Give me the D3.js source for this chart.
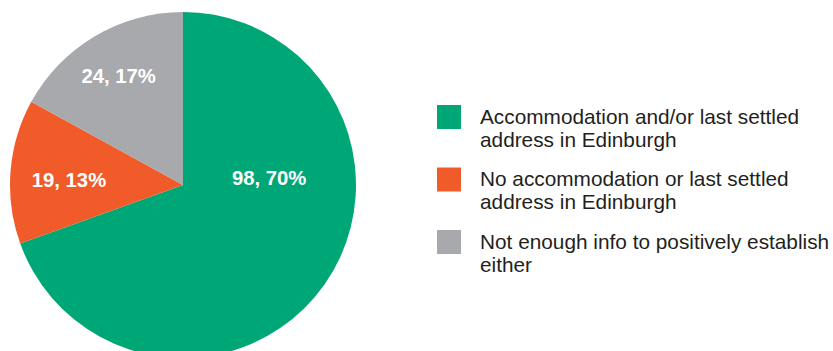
<!DOCTYPE html>
<html>
<head>
<meta charset="utf-8">
<script src="https://cdn.jsdelivr.net/npm/d3@7"></script>
<style>
  html, body { margin: 0; padding: 0; background: #ffffff; }
  svg { display: block; }
</style>
</head>
<body>
<svg id="chart" width="833" height="351"></svg>
<script>
// Slice data
const categories = [
  "Accommodation and/or last settled address in Edinburgh",
  "No accommodation or last settled address in Edinburgh",
  "Not enough info to positively establish either"
];
const legendLines = [
  ["Accommodation and/or last settled", "address in Edinburgh"],
  ["No accommodation or last settled", "address in Edinburgh"],
  ["Not enough info to positively establish", "either"]
];
const counts = [98, 19, 24];
const percents = [70, 13, 17];
const colors = ["#00a776", "#f15a29", "#a7a9ac"];

const svg = d3.select("#chart");
const cx = 183, cy = 185, R = 173;

const pie = d3.pie().sort(null).value(d => d.count);
const data = counts.map((c, i) => ({ name: categories[i], count: c, pct: percents[i], color: colors[i] }));
const arcs = pie(data);
const arc = d3.arc().innerRadius(0).outerRadius(R);

const g = svg.append("g").attr("transform", `translate(${cx},${cy})`);
g.selectAll("path.slice")
  .data(arcs)
  .join("path")
  .attr("class", "slice")
  .attr("d", arc)
  .attr("fill", d => d.data.color);

// Label placement: radius fraction and angle shift (radians) per slice
const labelPlace = [
  { r: 0.50, shift: -0.70 },
  { r: 0.66, shift: -0.03 },
  { r: 0.73, shift: 0.0 }
];
g.selectAll("text.val")
  .data(arcs)
  .join("text")
  .attr("class", "val")
  .attr("x", (d, i) => {
    const a = (d.startAngle + d.endAngle) / 2 + labelPlace[i].shift;
    return Math.sin(a) * R * labelPlace[i].r;
  })
  .attr("y", (d, i) => {
    const a = (d.startAngle + d.endAngle) / 2 + labelPlace[i].shift;
    return -Math.cos(a) * R * labelPlace[i].r;
  })
  .attr("dy", "0.35em")
  .attr("text-anchor", "middle")
  .attr("font-family", "'Liberation Sans', Arial, Helvetica, sans-serif")
  .attr("font-weight", "bold")
  .attr("font-size", 20.3)
  .attr("fill", "#ffffff")
  .text(d => `${d.data.count}, ${d.data.pct}%`);

// Legend
const legend = svg.append("g").attr("transform", "translate(437,105)");
const rows = legend.selectAll("g.row")
  .data(data)
  .join("g")
  .attr("class", "row")
  .attr("transform", (d, i) => `translate(0,${i * 62.5})`);
rows.append("rect")
  .attr("width", 24)
  .attr("height", 24)
  .attr("fill", d => d.color);
rows.append("text")
  .attr("x", 43)
  .attr("y", 18.5)
  .attr("font-family", "'Liberation Sans', Arial, Helvetica, sans-serif")
  .attr("font-size", 20.8)
  .attr("fill", "#231f20")
  .selectAll("tspan")
  .data((d, i) => legendLines[i])
  .join("tspan")
  .attr("x", 43)
  .attr("dy", (d, j) => j === 0 ? 0 : 23.4)
  .text(d => d);
</script>
</body>
</html>
